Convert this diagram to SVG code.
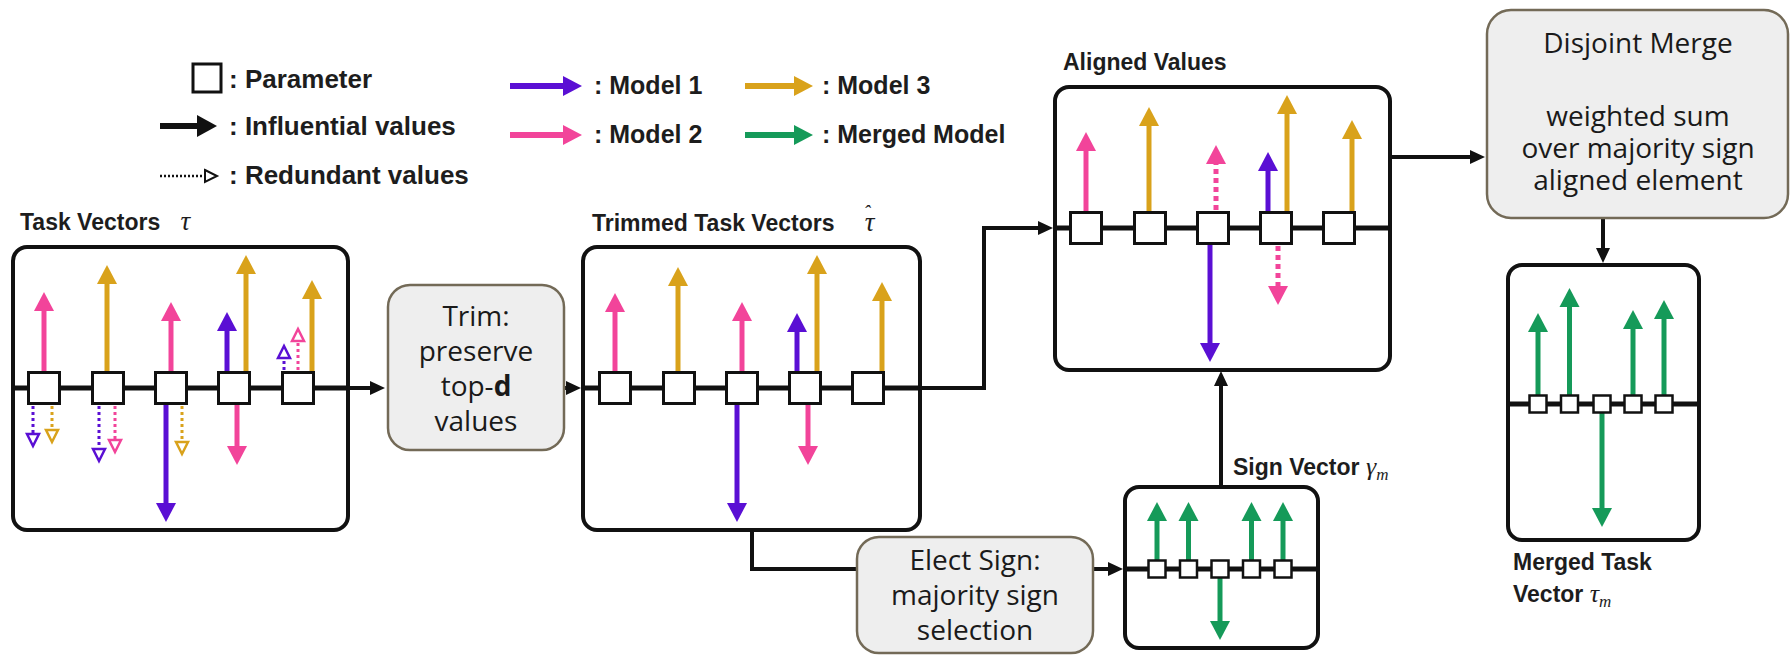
<svg xmlns="http://www.w3.org/2000/svg" width="1790" height="655" viewBox="0 0 1790 655">
<style>
.lbl{font-family:"Liberation Sans",Arial,sans-serif;font-weight:bold;font-size:23px;fill:#1d1d1d}
.leg{font-family:"Liberation Sans",Arial,sans-serif;font-weight:bold;font-size:26px;fill:#1d1d1d}
.leg2{font-family:"Liberation Sans",Arial,sans-serif;font-weight:bold;font-size:25px;fill:#1d1d1d}
.math{font-family:"Liberation Serif","DejaVu Serif",serif;font-style:italic;font-weight:normal}
.proc{font-family:"Open Sans","Noto Sans",sans-serif;font-size:28px;fill:#1a1a1a;text-anchor:middle}
.pbox{fill:#eeeeee;stroke:#736a57;stroke-width:2.5}
.vbox{fill:#ffffff;stroke:#111;stroke-width:4}
.axis{stroke:#111;stroke-width:5}
.sq{fill:#ffffff;stroke:#111;stroke-width:3}
.ssq{fill:#ffffff;stroke:#111;stroke-width:2.5}
.conn{fill:none;stroke:#111;stroke-width:4}
.a{stroke-width:5;fill:none}
.p{stroke:#f2449a}
.u{stroke:#5a0fd4}
.g{stroke:#d9a21b}
.m{stroke:#159a59}
.d{stroke-width:3;stroke-dasharray:3 3;fill:none}
.dd{stroke-width:5;stroke-dasharray:5 4;fill:none}
</style>
<defs>
<marker id="hp" viewBox="0 -11 22 22" refX="3" refY="0" markerWidth="22" markerHeight="22" markerUnits="userSpaceOnUse" orient="auto"><path d="M0,-10 L19,0 L0,10 z" fill="#f2449a"/></marker>
<marker id="hu" viewBox="0 -11 22 22" refX="3" refY="0" markerWidth="22" markerHeight="22" markerUnits="userSpaceOnUse" orient="auto"><path d="M0,-10 L19,0 L0,10 z" fill="#5a0fd4"/></marker>
<marker id="hg" viewBox="0 -11 22 22" refX="3" refY="0" markerWidth="22" markerHeight="22" markerUnits="userSpaceOnUse" orient="auto"><path d="M0,-10 L19,0 L0,10 z" fill="#d9a21b"/></marker>
<marker id="hm" viewBox="0 -11 22 22" refX="3" refY="0" markerWidth="22" markerHeight="22" markerUnits="userSpaceOnUse" orient="auto"><path d="M0,-10 L19,0 L0,10 z" fill="#159a59"/></marker>
<marker id="hk" viewBox="0 -11 22 22" refX="3" refY="0" markerWidth="22" markerHeight="22" markerUnits="userSpaceOnUse" orient="auto"><path d="M0,-11 L20,0 L0,11 z" fill="#111"/></marker>
<marker id="op" viewBox="-2 -10 18 20" refX="1" refY="0" markerWidth="18" markerHeight="20" markerUnits="userSpaceOnUse" orient="auto"><path d="M1,-6 L13,0 L1,6 z" fill="#fff" stroke="#f2449a" stroke-width="2.5"/></marker>
<marker id="ou" viewBox="-2 -10 18 20" refX="1" refY="0" markerWidth="18" markerHeight="20" markerUnits="userSpaceOnUse" orient="auto"><path d="M1,-6 L13,0 L1,6 z" fill="#fff" stroke="#5a0fd4" stroke-width="2.5"/></marker>
<marker id="og" viewBox="-2 -10 18 20" refX="1" refY="0" markerWidth="18" markerHeight="20" markerUnits="userSpaceOnUse" orient="auto"><path d="M1,-6 L13,0 L1,6 z" fill="#fff" stroke="#d9a21b" stroke-width="2.5"/></marker>
<marker id="ok" viewBox="-2 -10 18 20" refX="1" refY="0" markerWidth="18" markerHeight="20" markerUnits="userSpaceOnUse" orient="auto"><path d="M1,-6 L13,0 L1,6 z" fill="#fff" stroke="#111" stroke-width="2"/></marker>
<marker id="ck" viewBox="0 -10 18 20" refX="2" refY="0" markerWidth="18" markerHeight="20" markerUnits="userSpaceOnUse" orient="auto"><path d="M0,-7 L15,0 L0,7 z" fill="#111"/></marker>
</defs>

<g id="legend">
<rect x="193" y="64" width="28" height="28" fill="#fff" stroke="#111" stroke-width="3"/>
<text class="leg" x="229" y="88">: Parameter</text>
<line x1="160" y1="126" x2="200" y2="126" stroke="#111" stroke-width="6" marker-end="url(#hk)"/>
<text class="leg" x="229" y="135">: Influential values</text>
<line x1="160" y1="176" x2="205" y2="176" stroke="#111" stroke-width="2.5" stroke-dasharray="2 2" marker-end="url(#ok)"/>
<text class="leg" x="229" y="184">: Redundant values</text>
<line x1="510" y1="86" x2="566" y2="86" class="u" stroke-width="6" marker-end="url(#hu)"/>
<text class="leg2" x="594" y="94">: Model 1</text>
<line x1="745" y1="86" x2="797" y2="86" class="g" stroke-width="6" marker-end="url(#hg)"/>
<text class="leg2" x="822" y="94">: Model 3</text>
<line x1="510" y1="135" x2="566" y2="135" class="p" stroke-width="6" marker-end="url(#hp)"/>
<text class="leg2" x="594" y="143">: Model 2</text>
<line x1="745" y1="135" x2="797" y2="135" class="m" stroke-width="6" marker-end="url(#hm)"/>
<text class="leg2" x="822" y="143">: Merged Model</text>
</g>

<g id="connectors">
<line class="conn" x1="347" y1="388" x2="372" y2="388" marker-end="url(#ck)"/>
<line class="conn" x1="564" y1="388" x2="568" y2="388" marker-end="url(#ck)"/>
<path class="conn" d="M920,388 H984 V228 H1040" marker-end="url(#ck)"/>
<path class="conn" d="M752,530 V569 H1110" stroke-width="3" marker-end="url(#ck)"/>
<path class="conn" d="M1221,487 V384" marker-end="url(#ck)"/>
<path class="conn" d="M1390,157 H1472" marker-end="url(#ck)"/>
<path class="conn" d="M1603,218 V250" marker-end="url(#ck)"/>
</g>

<g id="task-vectors">
<text class="lbl" x="20" y="230" font-size="24">Task Vectors <tspan class="math" font-size="27" dx="14">τ</tspan></text>
<g transform="translate(13,247)">
<rect class="vbox" x="0" y="0" width="335" height="283" rx="14"/>
<line class="axis" x1="0" y1="141" x2="335" y2="141"/>
<line class="a p" x1="31" y1="141" x2="31" y2="61" marker-end="url(#hp)"/>
<line class="a g" x1="94" y1="141" x2="94" y2="34" marker-end="url(#hg)"/>
<line class="a p" x1="158" y1="141" x2="158" y2="71" marker-end="url(#hp)"/>
<line class="a u" x1="153" y1="141" x2="153" y2="259" marker-end="url(#hu)"/>
<line class="a u" x1="214" y1="141" x2="214" y2="81" marker-end="url(#hu)"/>
<line class="a g" x1="233" y1="141" x2="233" y2="24" marker-end="url(#hg)"/>
<line class="a p" x1="224" y1="141" x2="224" y2="202" marker-end="url(#hp)"/>
<line class="a g" x1="299" y1="141" x2="299" y2="49" marker-end="url(#hg)"/>
<line class="d u" x1="20" y1="141" x2="20" y2="187" marker-end="url(#ou)"/>
<line class="d g" x1="39" y1="141" x2="39" y2="183" marker-end="url(#og)"/>
<line class="d u" x1="86" y1="141" x2="86" y2="202" marker-end="url(#ou)"/>
<line class="d p" x1="102" y1="141" x2="102" y2="193" marker-end="url(#op)"/>
<line class="d g" x1="169" y1="141" x2="169" y2="195" marker-end="url(#og)"/>
<line class="d u" x1="271" y1="141" x2="271" y2="111" marker-end="url(#ou)"/>
<line class="d p" x1="285" y1="141" x2="285" y2="94" marker-end="url(#op)"/>
<rect class="sq" x="15.5" y="125.5" width="31" height="31"/>
<rect class="sq" x="79.5" y="125.5" width="31" height="31"/>
<rect class="sq" x="142.5" y="125.5" width="31" height="31"/>
<rect class="sq" x="205.5" y="125.5" width="31" height="31"/>
<rect class="sq" x="269.5" y="125.5" width="31" height="31"/>
</g>
</g>

<g id="trim">
<rect class="pbox" x="388" y="285" width="176" height="165" rx="22"/>
<text class="proc" x="476" y="326">Trim:</text>
<text class="proc" x="476" y="361">preserve</text>
<text class="proc" x="476" y="396">top-<tspan font-weight="bold">d</tspan></text>
<text class="proc" x="476" y="431">values</text>
</g>

<g id="trimmed-task-vectors">
<text class="lbl" x="592" y="231">Trimmed Task Vectors <tspan class="math" font-size="27" dx="24">τ</tspan><tspan class="math" font-size="20" dx="-11" dy="-11">ˆ</tspan></text>
<g transform="translate(583,247)">
<rect class="vbox" x="0" y="0" width="337" height="283" rx="14"/>
<line class="axis" x1="0" y1="141" x2="337" y2="141"/>
<line class="a p" x1="32" y1="141" x2="32" y2="62" marker-end="url(#hp)"/>
<line class="a g" x1="95" y1="141" x2="95" y2="36" marker-end="url(#hg)"/>
<line class="a p" x1="159" y1="141" x2="159" y2="71" marker-end="url(#hp)"/>
<line class="a u" x1="154" y1="141" x2="154" y2="259" marker-end="url(#hu)"/>
<line class="a u" x1="214" y1="141" x2="214" y2="82" marker-end="url(#hu)"/>
<line class="a g" x1="234" y1="141" x2="234" y2="24" marker-end="url(#hg)"/>
<line class="a p" x1="225" y1="141" x2="225" y2="202" marker-end="url(#hp)"/>
<line class="a g" x1="299" y1="141" x2="299" y2="51" marker-end="url(#hg)"/>
<rect class="sq" x="16.5" y="125.5" width="31" height="31"/>
<rect class="sq" x="80.5" y="125.5" width="31" height="31"/>
<rect class="sq" x="143.5" y="125.5" width="31" height="31"/>
<rect class="sq" x="206.5" y="125.5" width="31" height="31"/>
<rect class="sq" x="269.5" y="125.5" width="31" height="31"/>
</g>
</g>

<g id="aligned-values">
<text class="lbl" x="1063" y="70">Aligned Values</text>
<g transform="translate(1055,87)">
<rect class="vbox" x="0" y="0" width="335" height="283" rx="14"/>
<line class="axis" x1="0" y1="141" x2="335" y2="141"/>
<line class="a p" x1="31" y1="141" x2="31" y2="61" marker-end="url(#hp)"/>
<line class="a g" x1="94" y1="141" x2="94" y2="36" marker-end="url(#hg)"/>
<line class="dd p" x1="161" y1="141" x2="161" y2="74" marker-end="url(#hp)"/>
<line class="a u" x1="155" y1="141" x2="155" y2="259" marker-end="url(#hu)"/>
<line class="a u" x1="213" y1="141" x2="213" y2="81" marker-end="url(#hu)"/>
<line class="a g" x1="232" y1="141" x2="232" y2="24" marker-end="url(#hg)"/>
<line class="dd p" x1="223" y1="141" x2="223" y2="202" marker-end="url(#hp)"/>
<line class="a g" x1="297" y1="141" x2="297" y2="49" marker-end="url(#hg)"/>
<rect class="sq" x="15.5" y="125.5" width="31" height="31"/>
<rect class="sq" x="79.5" y="125.5" width="31" height="31"/>
<rect class="sq" x="142.5" y="125.5" width="31" height="31"/>
<rect class="sq" x="205.5" y="125.5" width="31" height="31"/>
<rect class="sq" x="268.5" y="125.5" width="31" height="31"/>
</g>
</g>

<g id="elect-sign">
<rect class="pbox" x="857" y="537" width="236" height="116" rx="22"/>
<text class="proc" x="975" y="570">Elect Sign:</text>
<text class="proc" x="975" y="605">majority sign</text>
<text class="proc" x="975" y="640">selection</text>
</g>

<g id="sign-vector">
<text class="lbl" x="1233" y="475">Sign Vector <tspan class="math" font-size="26">γ</tspan><tspan class="math" font-size="17" dy="5">m</tspan></text>
<g transform="translate(1125,487)">
<rect class="vbox" x="0" y="0" width="193" height="161" rx="14"/>
<line class="axis" x1="0" y1="82" x2="193" y2="82"/>
<line class="a m" x1="32" y1="82" x2="32" y2="31" marker-end="url(#hm)"/>
<line class="a m" x1="63.5" y1="82" x2="63.5" y2="31" marker-end="url(#hm)"/>
<line class="a m" x1="95" y1="82" x2="95" y2="137" marker-end="url(#hm)"/>
<line class="a m" x1="126.5" y1="82" x2="126.5" y2="31" marker-end="url(#hm)"/>
<line class="a m" x1="158" y1="82" x2="158" y2="31" marker-end="url(#hm)"/>
<rect class="ssq" x="23.5" y="73.5" width="17" height="17"/>
<rect class="ssq" x="55" y="73.5" width="17" height="17"/>
<rect class="ssq" x="86.5" y="73.5" width="17" height="17"/>
<rect class="ssq" x="118" y="73.5" width="17" height="17"/>
<rect class="ssq" x="149.5" y="73.5" width="17" height="17"/>
</g>
</g>

<g id="disjoint-merge">
<rect class="pbox" x="1487" y="10" width="301" height="208" rx="24"/>
<text class="proc" x="1638" y="53">Disjoint Merge</text>
<text class="proc" x="1638" y="126">weighted sum</text>
<text class="proc" x="1638" y="158">over majority sign</text>
<text class="proc" x="1638" y="190">aligned element</text>
</g>

<g id="merged-task-vector">
<g transform="translate(1508,265)">
<rect class="vbox" x="0" y="0" width="191" height="275" rx="14"/>
<line class="axis" x1="0" y1="139" x2="191" y2="139"/>
<line class="a m" x1="30" y1="139" x2="30" y2="64" marker-end="url(#hm)"/>
<line class="a m" x1="61.5" y1="139" x2="61.5" y2="39" marker-end="url(#hm)"/>
<line class="a m" x1="94" y1="139" x2="94" y2="246" marker-end="url(#hm)"/>
<line class="a m" x1="125" y1="139" x2="125" y2="61" marker-end="url(#hm)"/>
<line class="a m" x1="156" y1="139" x2="156" y2="51" marker-end="url(#hm)"/>
<rect class="ssq" x="21.5" y="130.5" width="17" height="17"/>
<rect class="ssq" x="53" y="130.5" width="17" height="17"/>
<rect class="ssq" x="85.5" y="130.5" width="17" height="17"/>
<rect class="ssq" x="116.5" y="130.5" width="17" height="17"/>
<rect class="ssq" x="147.5" y="130.5" width="17" height="17"/>
</g>
<text class="lbl" x="1513" y="570">Merged Task</text>
<text class="lbl" x="1513" y="602">Vector <tspan class="math" font-size="26">τ</tspan><tspan class="math" font-size="17" dy="5">m</tspan></text>
</g>
</svg>
